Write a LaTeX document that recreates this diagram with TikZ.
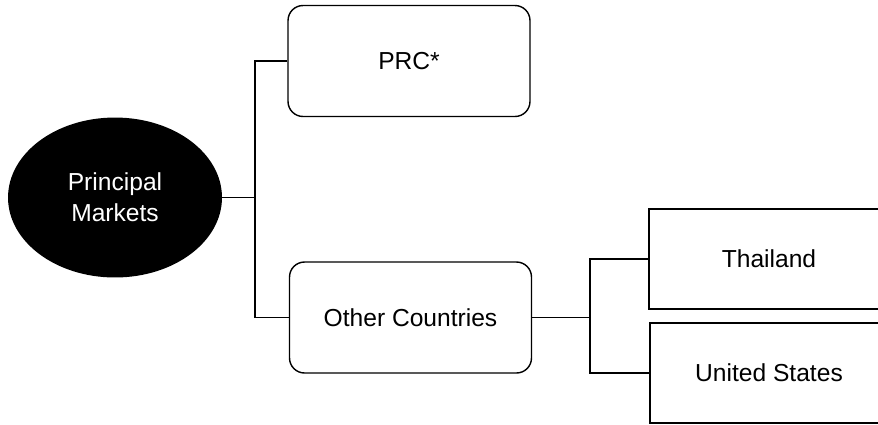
\documentclass[tikz,border=0pt]{standalone}
\usepackage{fontspec}
\setmainfont{Liberation Sans}
\usetikzlibrary{shapes.geometric}

\begin{document}
\begin{tikzpicture}[x=0.02cm, y=-0.02cm,
    font=\fontsize{14}{17.5}\selectfont,
    market/.style={ellipse, fill=black, text=white, align=center,
      minimum width=4.28cm, minimum height=3.2cm, inner sep=0pt},
    roundbox/.style={draw, line width=0.8pt, rounded corners=0.3cm,
      minimum width=4.84cm, minimum height=2.22cm},
    countrybox/.style={draw, line width=0.8pt,
      minimum width=5.02cm, minimum height=2cm},
    link/.style={line width=0.6pt}]
  \clip (0,0) rectangle (878,424);
  % root and first level
  \node[market] (markets) at (115,197.5) {Principal\\Markets};
  \node[roundbox] (prc) at (409,61) {PRC*};
  \node[roundbox] (other) at (410.5,317.5) {Other Countries};
  % second level, running past the right edge
  \node[countrybox] (thai) at (774.5,259) {};
  \node[countrybox] (us) at (775.5,373) {};
  \node at (769,259) {Thailand};
  \node at (769,373) {United States};
  % connectors
  \coordinate (split1) at (255,197.5);
  \coordinate (split2) at (590,317.5);
  \draw[link] (markets.east) -- (split1) |- (prc.west);
  \draw[link] (split1) |- (other.west);
  \draw[link] (other.east) -- (split2) |- (thai.west);
  \draw[link] (split2) |- (us.west);
\end{tikzpicture}
\end{document}
